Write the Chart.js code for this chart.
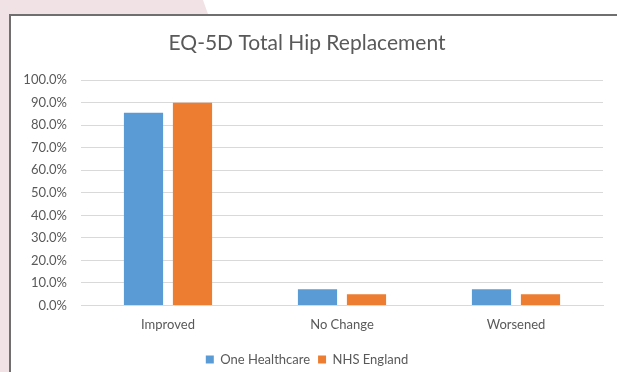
<!DOCTYPE html>
<html>
<head>
<meta charset="utf-8">
<script src="https://cdn.jsdelivr.net/npm/chart.js@4.4.0/dist/chart.umd.min.js"></script>
<style>
  html, body { margin: 0; padding: 0; }
  body {
    width: 617px;
    height: 372px;
    position: relative;
    overflow: hidden;
    background: #ffffff;
  }
  .pink {
    position: absolute;
    left: 0; top: 0;
    width: 617px; height: 372px;
    background: #f1e3e5;
    clip-path: polygon(0 0, 203px 0, 208px 14px, 9px 14px, 9px 372px, 0 372px);
  }
  .box {
    position: absolute;
    left: 9px; top: 14px;
    right: 0; bottom: 0;
    background: #fff;
    border-left: 2px solid #6f6f6f;
    border-top: 2px solid #6f6f6f;
  }
  .box canvas { display: block; }
</style>
</head>
<body>
<div class="pink"></div>
<div class="box">
  <canvas id="myChart" width="606" height="356"></canvas>
</div>
<script>
  var categories = ['Improved', 'No Change', 'Worsened'];
  var oneHealthcare = [85.5, 7.2, 7.2];
  var nhsEngland = [90.0, 5.0, 5.0];
  var seriesNames = ['One Healthcare', 'NHS England'];

  var textColor = '#595959';
  var fontFamily = 'Lato, "Open Sans", sans-serif';

  var ctx = document.getElementById('myChart').getContext('2d');

  new Chart(ctx, {
    type: 'bar',
    data: {
      labels: categories,
      datasets: [
        {
          label: seriesNames[0],
          data: oneHealthcare,
          backgroundColor: '#5b9bd5',
          categoryPercentage: 0.563,
          barPercentage: 0.8
        },
        {
          label: seriesNames[1],
          data: nhsEngland,
          backgroundColor: '#ed7d31',
          categoryPercentage: 0.563,
          barPercentage: 0.8
        }
      ]
    },
    options: {
      responsive: false,
      animation: false,
      layout: { padding: { left: 0, right: 14, top: 15, bottom: -4 } },
      plugins: {
        title: {
          display: true,
          text: 'EQ-5D Total Hip Replacement',
          color: textColor,
          font: { family: fontFamily, size: 21, weight: 'normal' },
          padding: { top: 0, bottom: 24 }
        },
        legend: {
          position: 'bottom',
          labels: {
            color: textColor,
            font: { family: fontFamily, size: 13 },
            boxWidth: 8,
            boxHeight: 8,
            padding: 8
          }
        },
        tooltip: { enabled: false }
      },
      scales: {
        x: {
          grid: { display: false, drawTicks: false },
          border: { color: '#d9d9d9' },
          ticks: {
            color: textColor,
            font: { family: fontFamily, size: 13 },
            padding: 12
          }
        },
        y: {
          min: 0,
          max: 100,
          afterFit: function(scale) { scale.width = 70; },
          grid: { color: '#d9d9d9', drawTicks: false },
          border: { display: false },
          ticks: {
            stepSize: 10,
            color: textColor,
            font: { family: fontFamily, size: 13 },
            padding: 14,
            callback: function(v) { return v.toFixed(1) + '%'; }
          }
        }
      }
    }
  });
</script>
</body>
</html>
